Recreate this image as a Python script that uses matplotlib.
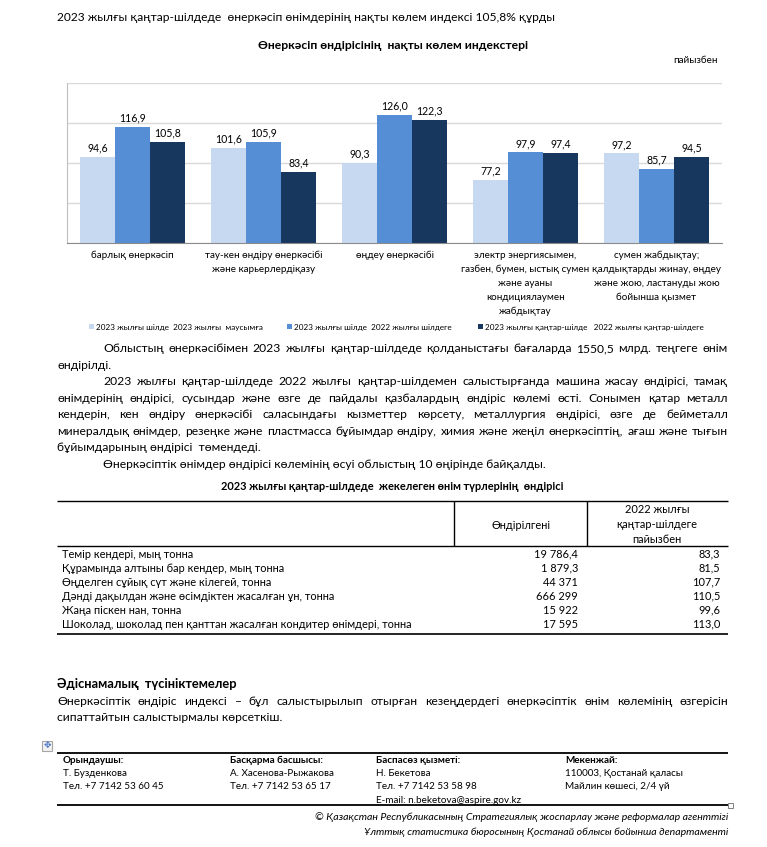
import matplotlib
matplotlib.use("Agg")
import matplotlib.pyplot as plt
from matplotlib.font_manager import FontProperties, findfont
from matplotlib.ft2font import FT2Font
from matplotlib.patches import Rectangle
import numpy as np

# ---------------- data ----------------
header_text = "2023 жылғы қаңтар-шілдеде  өнеркәсіп өнімдерінің нақты көлем индексі 105,8% құрды"
chart_title = "Өнеркәсіп өндірісінің  нақты көлем индекстері"
unit_label = "пайызбен"
categories = [
    ["барлық өнеркәсіп"],
    ["тау-кен өндіру өнеркәсібі", "және карьерлердіқазу"],
    ["өңдеу өнеркәсібі"],
    ["электр энергиясымен,", "газбен, бумен, ыстық сумен", "және ауаны", "кондициялаумен", "жабдықтау"],
    ["сумен жабдықтау;", "қалдықтарды жинау, өңдеу", "және жою, ластануды жою", "бойынша қызмет"],
]
series_labels = [
    "2023 жылғы шілде  2023 жылғы  маусымға",
    "2023 жылғы шілде  2022 жылғы шілдеге",
    "2023 жылғы қаңтар-шілде   2022 жылғы қаңтар-шілдеге",
]
jul23_vs_jun23 = [94.6, 101.6, 90.3, 77.2, 97.2]
jul23_vs_jul22 = [116.9, 105.9, 126.0, 97.9, 85.7]
janjul23_vs_janjul22 = [105.8, 83.4, 122.3, 97.4, 94.5]
series_values = [jul23_vs_jun23, jul23_vs_jul22, janjul23_vs_janjul22]
series_colors = ["#C6D9F1", "#558ED5", "#17375E"]
y_ticks = [30, 60, 90, 120, 150]

body_lines = [
    ("Облыстың өнеркәсібімен 2023 жылғы қаңтар-шілдеде қолданыстағы бағаларда  1550,5  млрд. теңгеге өнім", True, True),
    ("өндірілді.", False, False),
    ("2023 жылғы қаңтар-шілдеде 2022 жылғы қаңтар-шілдемен салыстырғанда машина жасау өндірісі, тамақ", True, True),
    ("өнімдерінің өндірісі, сусындар және өзге де пайдалы қазбалардың өндіріс көлемі өсті. Сонымен қатар металл", False, True),
    ("кендерін, кен өндіру өнеркәсібі саласындағы кызметтер көрсету, металлургия өндірісі, өзге де бейметалл", False, True),
    ("минералдық өнімдер, резеңке және пластмасса бұйымдар өндіру, химия және жеңіл өнеркәсіптің, ағаш және тығын", False, True),
    ("бұйымдарының өндірісі  төмендеді.", False, False),
    ("Өнеркәсіптік өнімдер өндірісі көлемінің өсуі облыстың 10 өңірінде байқалды.", True, False),
]

table_title = "2023 жылғы қаңтар-шілдеде  жекелеген өнім түрлерінің  өндірісі"
table_head_1 = "Өндірілгені"
table_head_2 = ["2022 жылғы", "қаңтар-шілдеге", "пайызбен"]
table_products = [
    "Темір кендері, мың тонна",
    "Құрамында алтыны бар кендер, мың тонна",
    "Өңделген сұйық сүт және кілегей, тонна",
    "Дәнді дақылдан және өсімдіктен жасалған ұн, тонна",
    "Жаңа піскен нан, тонна",
    "Шоколад, шоколад пен қанттан жасалған кондитер өнімдері, тонна",
]
table_output = ["19 786,4", "1 879,3", "44 371", "666 299", "15 922", "17 595"]
table_pct = [83.3, 81.5, 107.7, 110.5, 99.6, 113.0]

method_title = "Әдіснамалық  түсініктемелер"
method_lines = [
    ("Өнеркәсіптік өндіріс индексі – бұл салыстырылып отырған кезеңдердегі өнеркәсіптік өнім көлемінің өзгерісін", True),
    ("сипаттайтын салыстырмалы көрсеткіш.", False),
]
footer_cols = [
    ["Орындаушы:", "Т. Бузденкова", "Тел. +7 7142 53 60 45"],
    ["Басқарма басшысы:", "А. Хасенова-Рыжакова", "Тел. +7 7142 53 65 17"],
    ["Баспасөз қызметі:", "Н. Бекетова", "Тел. +7 7142 53 58 98", "E-mail: n.beketova@aspire.gov.kz"],
    ["Мекенжай:", "110003, Қостанай қаласы", "Майлин көшесі, 2/4 үй"],
]
credit_lines = [
    "© Қазақстан Республикасының Стратегиялық жоспарлау және реформалар агенттігі",
    "Ұлттық статистика бюросының Қостанай облысы бойынша департаменті",
]

# ---------------- font choice ----------------
all_text = header_text + chart_title + unit_label + "".join("".join(c) for c in categories) \
    + "".join(series_labels) + "".join(l for l, _, _ in body_lines) + table_title + table_head_1 \
    + "".join(table_head_2) + "".join(table_products) + method_title + "".join(l for l, _ in method_lines) \
    + "".join("".join(c) for c in footer_cols) + "".join(credit_lines) + "0123456789,"
needed = {ord(c) for c in all_text if not c.isspace()}


def covers(fam):
    try:
        path = findfont(FontProperties(family=fam), fallback_to_default=False)
        cmap = FT2Font(path).get_charmap()
        return all(c in cmap for c in needed)
    except Exception:
        return False


FONT = "DejaVu Sans"
for cand in ["Lato", "Open Sans", "Roboto", "Noto Sans", "Liberation Sans"]:
    if covers(cand):
        FONT = cand
        break

W, H = 767, 847
fig = plt.figure(figsize=(W / 100, H / 100), dpi=100)
fig.patch.set_facecolor("white")
renderer = fig.canvas.get_renderer()


def fp(size, weight="normal", style="normal"):
    return FontProperties(family=FONT, size=size, weight=weight, style=style)


def width_px(s, size, weight="normal", style="normal"):
    w, h, d = renderer.get_text_width_height_descent(s, fp(size, weight, style), ismath=False)
    return w


def fit(s, target, weight="normal", style="normal"):
    return 10.0 * target / width_px(s, 10.0, weight, style)


s_head = fit(header_text, 498)
s_ctitle = fit(chart_title, 270, "bold")
s_cat = fit(categories[1][0], 118)
s_dlab = fit("116,9", 27)
s_leg = fit(series_labels[2], 219)
s_body = fit(body_lines[7][0], 442)
s_ttitle = fit(table_title, 341, "bold")
s_table = fit(table_products[5], 349)
s_meth = fit(method_title, 180, "bold")
s_foot = fit(footer_cols[3][ 1], 118)
s_ital = fit(credit_lines[1], 363, style="italic")

# page axes in pixel coordinates (y downward)
page = fig.add_axes([0, 0, 1, 1])
page.set_xlim(0, W)
page.set_ylim(H, 0)
page.axis("off")
page.patch.set_visible(False)


def T(x, yc, s, size, ha="left", weight="normal", style="normal", color="black"):
    yb = yc + 0.34 * size * 100 / 72
    page.text(x, yb, s, fontproperties=fp(size, weight, style), ha=ha, va="baseline", color=color)


def justify(line, x0, x1, yc, size):
    words = line.split()
    ws = [width_px(w, size) for w in words]
    gap = (x1 - x0 - sum(ws)) / (len(words) - 1)
    x = x0
    for w, wd in zip(words, ws):
        T(x, yc, w, size)
        x += wd + gap


def hline(x0, x1, y, lw=1.0, color="black"):
    page.plot([x0, x1], [y, y], color=color, lw=lw, solid_capstyle="butt")


def vline(x, y0, y1, lw=1.0, color="black"):
    page.plot([x, x], [y0, y1], color=color, lw=lw, solid_capstyle="butt")


# ---------------- header ----------------
T(57, 17, header_text, s_head)
T(393, 45, chart_title, s_ctitle, ha="center", weight="bold")
T(718, 60, unit_label, s_cat, ha="right")

# ---------------- bar chart ----------------
ax_l, ax_r, ax_t, ax_b = 67, 722, 83, 243
ax = fig.add_axes([ax_l / W, 1 - ax_b / H, (ax_r - ax_l) / W, (ax_b - ax_t) / H])
xpos = np.arange(len(categories))
bw = 35 / 131
for k, (vals, col) in enumerate(zip(series_values, series_colors)):
    bars = ax.bar(xpos + (k - 1) * bw, vals, width=bw, color=col, zorder=2)
    for b, v in zip(bars, vals):
        ax.annotate(f"{v:.1f}".replace(".", ","), (b.get_x() + b.get_width() / 2, v),
                    xytext=(0, 2.5), textcoords="offset points", ha="center", va="bottom",
                    fontproperties=fp(s_dlab), color="black")
ax.set_xlim(-0.5, len(categories) - 0.5)
ax.set_ylim(y_ticks[0], y_ticks[-1])
ax.set_yticks(y_ticks)
ax.yaxis.grid(True, color="#D9D9D9", lw=1.0)
ax.set_axisbelow(True)
ax.tick_params(left=False, bottom=False, labelleft=False, labelbottom=False)
ax.spines["top"].set_visible(False)
ax.spines["right"].set_visible(False)
ax.spines["left"].set_color("#BFBFBF")
ax.spines["bottom"].set_color("#8C8C8C")
ax.patch.set_visible(False)

fig.canvas.draw()
for i, lines in enumerate(categories):
    xc = ax.transData.transform((i, y_ticks[0]))[0]
    for j, ln in enumerate(lines):
        T(xc, 255 + 14 * j, ln, s_cat, ha="center")

# legend
leg_x = [89, 287, 478]
for lx, lab, col in zip(leg_x, series_labels, series_colors):
    page.add_patch(Rectangle((lx, 324.5), 5, 5, color=col, lw=0))
    T(lx + 7, 327, lab, s_leg)

# ---------------- body text ----------------
body_y = [348, 365, 381, 398, 414, 431, 447, 464]
for (line, indent, just), y in zip(body_lines, body_y):
    x0 = 103 if indent else 57
    if just:
        justify(line, x0, 728, y, s_body)
    else:
        T(x0, y, line, s_body)

# ---------------- table ----------------
T(392, 486, table_title, s_ttitle, ha="center", weight="bold")
hline(57, 728, 501.5, lw=1.0)
vline(453.5, 501.5, 546)
vline(586.5, 501.5, 546)
hline(57, 728, 546, lw=1.0)
hline(57, 728, 634.5, lw=1.2)
T(521, 525, table_head_1, s_table, ha="center")
for j, ln in enumerate(table_head_2):
    T(657, 509 + 15 * j, ln, s_table, ha="center")
row_y = [554, 568, 582, 596, 610, 624]
for name, out, pct, y in zip(table_products, table_output, table_pct, row_y):
    T(62, y, name, s_table)
    T(578, y, out, s_table, ha="right")
    T(720, y, f"{pct:.1f}".replace(".", ","), s_table, ha="right")

# ---------------- methodology ----------------
T(57, 684, method_title, s_meth, weight="bold")
for (line, just), y in zip(method_lines, [701, 717]):
    if just:
        justify(line, 57, 728, y, s_body)
    else:
        T(57, y, line, s_body)

# table-move handle icon
page.add_patch(Rectangle((42, 741), 10, 10, fill=True, facecolor="#F2F2F2", edgecolor="#A6A6A6", lw=0.8))
page.text(47, 746, "\u2725", fontsize=6.5, color="#4472C4", ha="center", va="center", family="DejaVu Sans")

# ---------------- footer ----------------
hline(57, 728, 753, lw=1.3)
hline(57, 728, 805, lw=1.3)
page.add_patch(Rectangle((728, 803), 5, 5, fill=False, edgecolor="#7F7F7F", lw=0.7))
foot_x = [63, 230, 376, 565]
for fx, col in zip(foot_x, footer_cols):
    for j, ln in enumerate(col):
        T(fx, 759.5 + 13.3 * j, ln, s_foot, weight="bold" if j == 0 else "normal")
for j, ln in enumerate(credit_lines):
    T(728, 816 + 15 * j, ln, s_ital, ha="right", style="italic")

fig.savefig("out.png", dpi=100, facecolor="white")
